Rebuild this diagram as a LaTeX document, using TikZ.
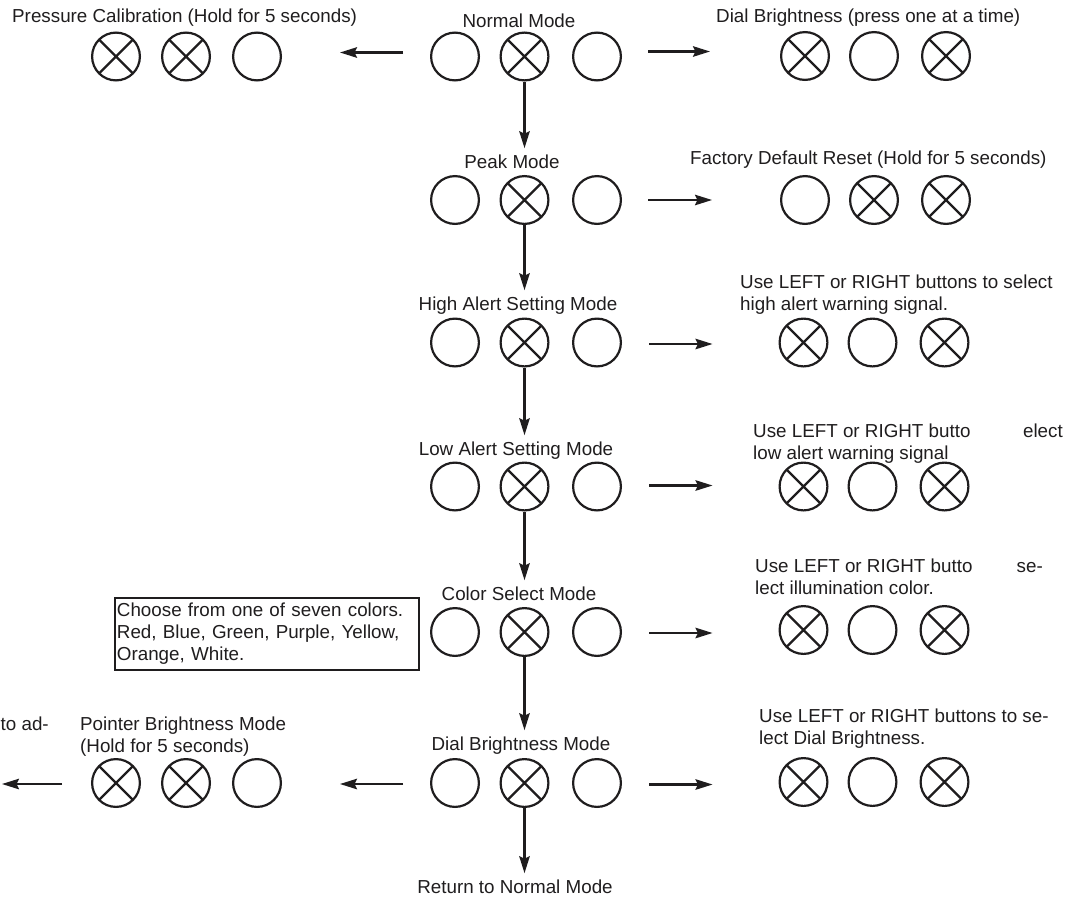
\documentclass[tikz,border=0pt]{standalone}
\usepackage{fontspec}
\setmainfont{Liberation Sans}
\usetikzlibrary{arrows.meta}
\definecolor{ink}{HTML}{1F1D1E}
\begin{document}
\begin{tikzpicture}[x=1pt,y=-1pt,
  lamp/.style={circle,draw=ink,line width=2.2pt,minimum size=47.8pt,inner sep=0pt},
  lampx/.style={lamp,path picture={\draw[ink,line width=2.2pt]
     (path picture bounding box.north west)--(path picture bounding box.south east)
     (path picture bounding box.north east)--(path picture bounding box.south west);}},
  lbl/.style={inner sep=0pt,text=ink,font=\fontsize{18.8}{22}\selectfont},
  arr/.style={draw=ink,line width=2.1pt,-{Stealth[length=17pt,width=10.5pt,inset=2.5pt]}},
]
\useasboundingbox (0,0) rectangle (1078,900);

% ---------- centre column ----------
\foreach \i/\y in {1/56.5,2/200,3/342.5,4/486.5,5/632,6/783}{
  \node[lamp]  (m\i a) at (455,\y) {};
  \node[lampx] (m\i b) at (524.5,\y) {};
  \node[lamp]  (m\i c) at (597,\y) {};
}
\node[lbl,anchor=base] (L1) at (519,27)  {Normal Mode};
\node[lbl,anchor=base] (L2) at (512,168) {Peak Mode};
\node[lbl,anchor=base] (L3) at (518,310) {High Alert Setting Mode};
\node[lbl,anchor=base] (L4) at (516,455) {Low Alert Setting Mode};
\node[lbl,anchor=base] (L5) at (519,600) {Color Select Mode};
\node[lbl,anchor=base] (L6) at (521,750) {Dial Brightness Mode};
\node[lbl,anchor=base] (L7) at (515,893) {Return to Normal Mode};

\draw[arr,shorten >=6pt] (m1b.south) -- (m1b.south |- L2.north);
\draw[arr,shorten >=6pt] (m2b.south) -- (m2b.south |- L3.north);
\draw[arr,shorten >=6pt] (m3b.south) -- (m3b.south |- L4.north);
\draw[arr,shorten >=6pt] (m4b.south) -- (m4b.south |- L5.north);
\draw[arr,shorten >=6pt] (m5b.south) -- (m5b.south |- L6.north);
\draw[arr,shorten >=6pt] (m6b.south) -- (m6b.south |- L7.north);

% ---------- right column ----------
\node[lampx] (r1a) at (805,56) {};
\node[lamp]  (r1b) at (874,56) {};
\node[lampx] (r1c) at (946,56) {};
\node[lamp]  (r2a) at (805,200) {};
\node[lampx] (r2b) at (874,200) {};
\node[lampx] (r2c) at (946,200) {};
\node[lampx] (r3a) at (803.5,342.5) {};
\node[lamp]  (r3b) at (872.5,342.5) {};
\node[lampx] (r3c) at (944.5,342.5) {};
\node[lampx] (r4a) at (803.5,486.5) {};
\node[lamp]  (r4b) at (872.5,486.5) {};
\node[lampx] (r4c) at (944.5,486.5) {};
\node[lampx] (r5a) at (803.5,630) {};
\node[lamp]  (r5b) at (872.5,630) {};
\node[lampx] (r5c) at (944.5,630) {};
\node[lampx] (r6a) at (803.5,782) {};
\node[lamp]  (r6b) at (872.5,782) {};
\node[lampx] (r6c) at (944.5,782) {};

\node[lbl,anchor=base west] (t1) at (716,22.5) {Dial Brightness (press one at a time)};
\node[lbl,anchor=base west] (t2) at (690,164) {Factory Default Reset (Hold for 5 seconds)};
\node[lbl,anchor=north west,align=left] (t3) at (740,274.5)
  {Use LEFT or RIGHT buttons to select\\high alert warning signal.};
\node[lbl,anchor=north west,align=left] (t4) at (753,423.5)
  {Use LEFT or RIGHT butto\\low alert warning signal};
\node[lbl,anchor=base east] (t4b) at (1063,437) {elect};
\node[lbl,anchor=north west,align=left] (t5) at (755,558.5)
  {Use LEFT or RIGHT butto\\lect illumination color.};
\node[lbl,anchor=base east] (t5b) at (1043,572) {se-};
\node[lbl,anchor=north west,align=left] (t6) at (759,708.5)
  {Use LEFT or RIGHT buttons to se-\\lect Dial Brightness.};

\draw[arr] ([xshift=26pt,yshift=5pt]m1c.east) -- ([xshift=-70pt,yshift=4.5pt]r1a.west);
\draw[arr] ([xshift=26pt]m2c.east) -- ([xshift=-68pt]r2a.west);
\draw[arr] ([xshift=27pt,yshift=-1.5pt]m3c.east) -- ([xshift=-66pt,yshift=-1.5pt]r3a.west);
\draw[arr] ([xshift=27pt,yshift=1pt]m4c.east) -- ([xshift=-66pt,yshift=1pt]r4a.west);
\draw[arr] ([xshift=27pt,yshift=-1pt]m5c.east) -- ([xshift=-66pt,yshift=-3pt]r5a.west);
\draw[arr] ([xshift=27pt,yshift=-1.5pt]m6c.east) -- ([xshift=-66pt,yshift=-2.5pt]r6a.west);

% ---------- left column ----------
\node[lampx] (p1a) at (116,56.5) {};
\node[lampx] (p1b) at (186,56.5) {};
\node[lamp]  (p1c) at (257,56.5) {};
\node[lbl,anchor=base west] (t0) at (12,22.5) {Pressure Calibration (Hold for 5 seconds)};
\draw[arr] ([xshift=-27pt,yshift=4pt]m1a.west) -- ([xshift=58pt,yshift=4pt]p1c.east);

\node[lampx] (p6a) at (116,783) {};
\node[lampx] (p6b) at (186,783) {};
\node[lamp]  (p6c) at (257,783) {};
\node[lbl,anchor=north west,align=left] (tp) at (80,716.3)
  {Pointer Brightness Mode\\(Hold for 5 seconds)};
\node[lbl,anchor=base west] (tad) at (0.5,730) {to ad-};
\draw[arr] ([xshift=-27pt,yshift=-1pt]m6a.west) -- ([xshift=58pt,yshift=-1pt]p6c.east);
\coordinate (edge) at (2,784);
\draw[arr] ([xshift=-29pt,yshift=-1pt]p6a.west) -- (edge);

% ---------- colour box ----------
\node[lbl,draw=ink,line width=1.9pt,anchor=north west,align=left,
      text width=300pt,minimum width=304pt,minimum height=72pt,
      inner xsep=1pt,inner ysep=4pt] (box) at (114,597)
  {Choose from one of seven colors.\\Red, Blue, Green, Purple, Yellow,\\Orange, White.};
\end{tikzpicture}
\end{document}
